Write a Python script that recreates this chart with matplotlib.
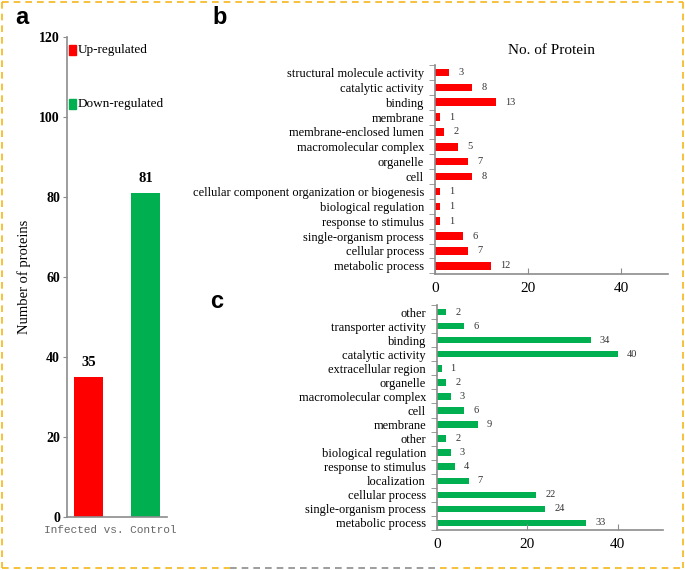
import matplotlib.pyplot as plt
from matplotlib.patches import Rectangle
from matplotlib.lines import Line2D

# panel a
groups = ['Up-regulated', 'Down-regulated']
counts = [35, 81]

# panel b (up-regulated GO terms, bottom to top)
b_terms = ['metabolic process', 'cellular process', 'single-organism process',
           'response to stimulus', 'biological regulation',
           'cellular component organization or biogenesis', 'cell', 'organelle',
           'macromolecular complex', 'membrane-enclosed lumen', 'membrane',
           'binding', 'catalytic activity', 'structural molecule activity']
b_vals = [12, 7, 6, 1, 1, 1, 8, 7, 5, 2, 1, 13, 8, 3]

# panel c (down-regulated GO terms, bottom to top)
c_terms = ['metabolic process', 'single-organism process', 'cellular process',
           'localization', 'response to stimulus', 'biological regulation',
           'other', 'membrane', 'cell', 'macromolecular complex', 'organelle',
           'extracellular region', 'catalytic activity', 'binding',
           'transporter activity', 'other']
c_vals = [33, 24, 22, 7, 4, 3, 2, 9, 6, 3, 2, 1, 40, 34, 6, 2]

RED = '#FF0000'
GREEN = '#00B050'
GREY = '#8C8C8C'
serif = 'Liberation Serif'

fig = plt.figure(figsize=(6.85, 5.70), dpi=100)

# ---- a
ax = fig.add_axes([67/685, 1-517/570, 100/685, 480/570])
ax.bar([0, 1], counts, width=0.51, color=[RED, GREEN])
for i, v in enumerate(counts):
    ax.text(i, v + 2, str(v), ha='center', va='bottom', family=serif,
            fontweight='bold', fontsize=10.5)
ax.set_xlim(-0.377, 1.377)
ax.set_ylim(0, 120)
ax.set_yticks(range(0, 121, 20))
ax.set_yticklabels([str(t) for t in range(0, 121, 20)], family=serif,
                   fontweight='bold', fontsize=10)
ax.set_xticks([0.38])
ax.set_xticklabels(['Infected vs. Control'], family='Liberation Mono',
                   fontsize=8, color='#666666')
ax.tick_params(axis='x', length=0, pad=6)
ax.tick_params(axis='y', length=3, color=GREY, pad=2)
for s in ['top', 'right']:
    ax.spines[s].set_visible(False)
for s in ['left', 'bottom']:
    ax.spines[s].set_color(GREY)
    ax.spines[s].set_linewidth(1.2)
ax.set_ylabel('Number of proteins', family=serif, fontsize=10.5, labelpad=6)
for y, lab, col in [(116.8, groups[0], RED), (103.3, groups[1], GREEN)]:
    ax.add_patch(Rectangle((-0.35, y - 1.2), 0.13, 2.4, color=col,
                           clip_on=False))
    ax.text(-0.19, y, lab, va='center', ha='left', family=serif, fontsize=9.5)


def hbar(rect, terms, vals, col, h, ylim, title=None):
    ax = fig.add_axes(rect)
    y = range(len(terms))
    ax.barh(list(y), vals, height=h, color=col)
    for i, v in enumerate(vals):
        ax.text(v + 2.0, i, str(v), va='center', ha='left', family=serif,
                fontsize=7.5, color='#333333')
    ax.set_xlim(0, 50)
    ax.set_ylim(*ylim)
    ax.set_yticks(list(y))
    ax.set_yticklabels(terms, family=serif, fontsize=9)
    ax.set_yticks([i - 0.5 for i in range(len(terms) + 1)], minor=True)
    ax.tick_params(axis='y', which='major', length=0, pad=8)
    ax.tick_params(axis='y', which='minor', length=4, color=GREY,
                   direction='out')
    ax.set_xticks([0, 20, 40])
    ax.set_xticklabels(['0', '20', '40'], family=serif, fontsize=11)
    ax.tick_params(axis='x', length=4, color=GREY, direction='in', pad=6)
    for s in ['top', 'right']:
        ax.spines[s].set_visible(False)
    for s in ['left', 'bottom']:
        ax.spines[s].set_color(GREY)
        ax.spines[s].set_linewidth(1.2)
    if title:
        ax.set_title(title, family=serif, fontsize=11, pad=8)
    return ax


hbar([435/685, 1-274/570, 233/685, 209/570], b_terms, b_vals, RED, 0.5,
     (-0.55, 13.5), 'No. of Protein')
hbar([437/685, 1-530/570, 226/685, 225/570], c_terms, c_vals, GREEN, 0.46,
     (-0.42, 15.5))

# panel letters
for x, y, t in [(15, 17, 'a'), (212, 17, 'b'), (210, 302, 'c')]:
    fig.text(x/685, 1-y/570, t, fontsize=17, fontweight='bold',
             family='Liberation Sans', va='center', ha='left')

# dashed frame
ORANGE = '#F5B61A'
fr = dict(transform=fig.transFigure, lw=1.2, ls=(0, (4, 3)))
fig.add_artist(Line2D([2/685, 683/685], [1-2/570, 1-2/570], color=ORANGE, **fr))
fig.add_artist(Line2D([2/685, 2/685], [1-2/570, 1-568/570], color=ORANGE, **fr))
fig.add_artist(Line2D([683/685, 683/685], [1-2/570, 1-568/570], color=ORANGE, **fr))
fig.add_artist(Line2D([2/685, 230/685], [1-568/570, 1-568/570], color=ORANGE, **fr))
fig.add_artist(Line2D([230/685, 440/685], [1-568/570, 1-568/570], color=GREY, **fr))
fig.add_artist(Line2D([440/685, 683/685], [1-568/570, 1-568/570], color=ORANGE, **fr))

fig.savefig('out.png', dpi=100)
